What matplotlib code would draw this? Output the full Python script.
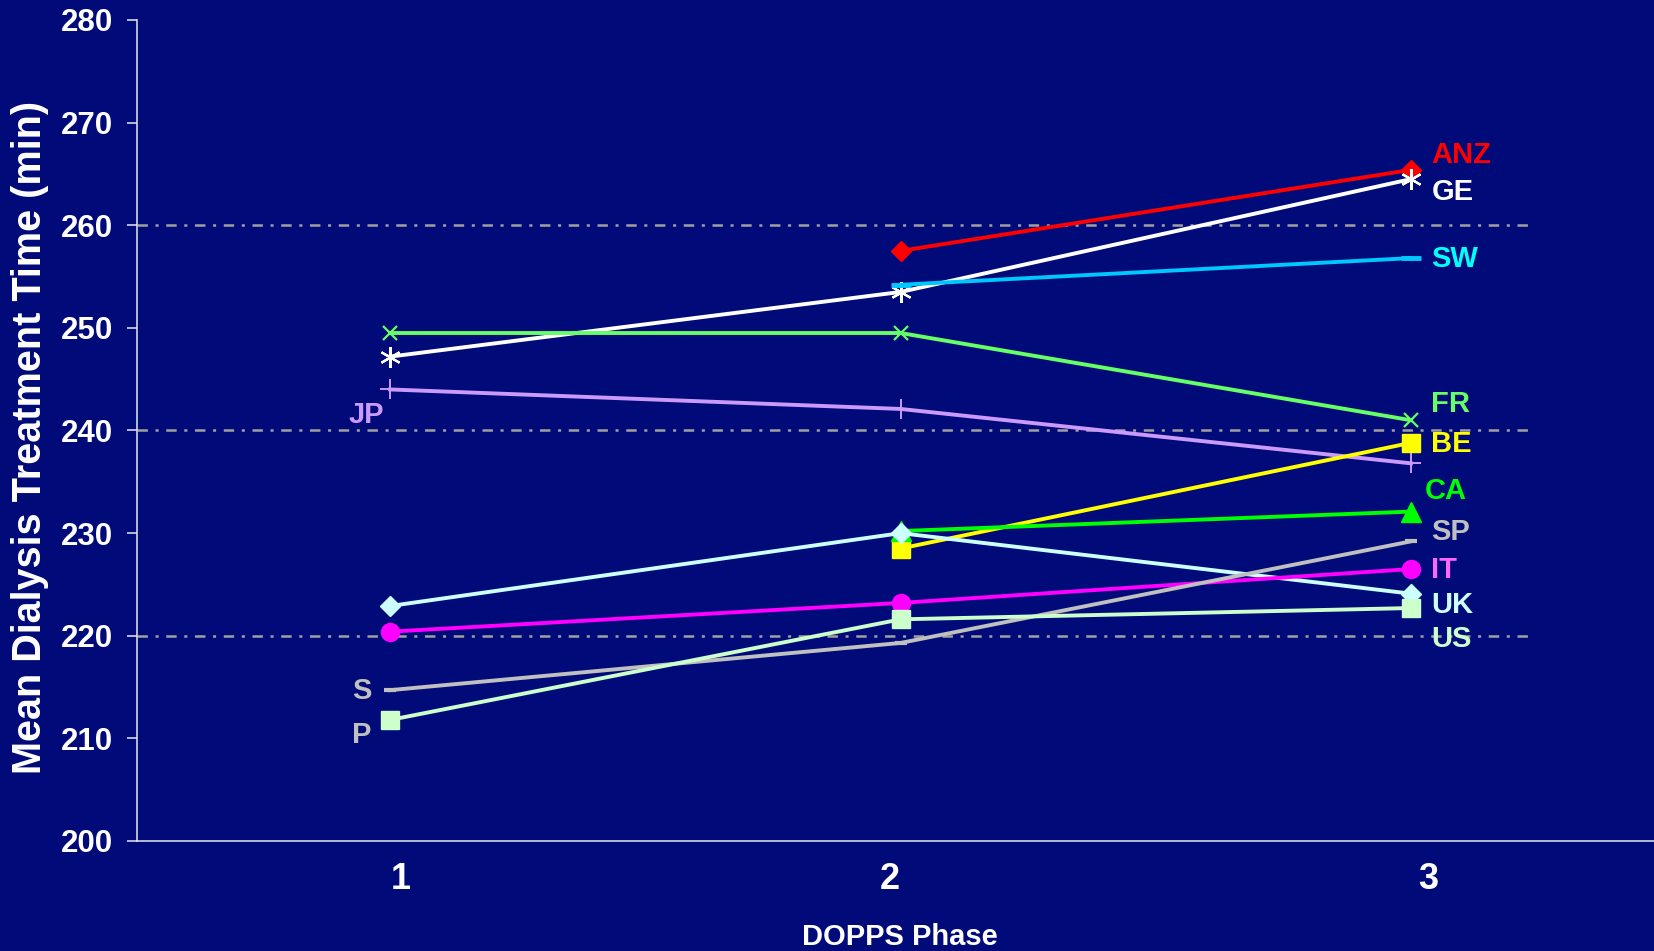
import numpy as np
import matplotlib as mpl
import matplotlib.pyplot as plt

mpl.use('Agg')

# mean dialysis treatment time (min) per DOPPS phase
phases = [1, 2, 3]
anz = [np.nan, 257.5, 265.4]
ge = [247.2, 253.5, 264.5]
sw = [np.nan, 254.2, 256.8]
fr = [249.5, 249.5, 241.0]
jp = [244.0, 242.1, 236.8]
be = [np.nan, 228.5, 238.8]
ca = [np.nan, 230.2, 232.1]
uk = [222.9, 230.0, 224.1]
it = [220.4, 223.2, 226.5]
sp = [214.7, 219.3, 229.2]
us = [211.8, 221.6, 222.7]

y_ticks = [200, 210, 220, 230, 240, 250, 260, 270, 280]
ref_lines = [220, 240, 260]

BG = '#000A78'
plt.rcParams['font.family'] = ['Liberation Sans', 'DejaVu Sans']
plt.rcParams['font.weight'] = 'bold'
plt.rcParams['lines.scale_dashes'] = False

fig = plt.figure(figsize=(16.54, 9.51), dpi=100, facecolor=BG)
ax = fig.add_axes([137 / 1654, 110 / 951, 1517 / 1654, 821 / 951], facecolor=BG)

ax.set_xlim(0.504, 3.476)
ax.set_ylim(200, 280)

# dash-dot reference lines
for y in ref_lines:
    ax.hlines(y, 0.504, 3.243, colors='#A0A0A0', lw=1.8,
              linestyles=[(0, (7.5, 5.5, 2.2, 5.5))], zorder=1)

# (values, line colour, marker, marker size, marker edge width)
series = [
    (anz, '#FF0000', 'D', 10, 1),
    (ge, '#FFFFFF', (6, 2, 0), 15, 1.6),
    (sw, '#00C8FF', '_', 14, 3.5),
    (fr, '#66FF66', 'x', 10, 1.6),
    (jp, '#CC99FF', '+', 15, 1.4),
    (be, '#FFFF00', 's', 13, 1),
    (ca, '#00FF00', '^', 14, 1),
    (uk, '#CCFFFF', 'D', 10, 1),
    (it, '#FF00FF', 'o', 13, 1),
    (sp, '#C0C0C0', '_', 9, 3),
    (us, '#CCFFCC', 's', 13, 1),
]
for vals, col, mk, ms, mew in series:
    ax.plot(phases, vals, color=col, lw=2.8, marker=mk, ms=ms,
            mfc=col, mec=col, mew=mew, zorder=3)

# country labels
labels = [
    ('ANZ', '#FF0000', 3.04, 266.8, 'left'),
    ('GE', '#FFFFFF', 3.04, 263.2, 'left'),
    ('SW', '#00FFFF', 3.04, 256.7, 'left'),
    ('FR', '#66FF66', 3.04, 242.6, 'left'),
    ('BE', '#FFFF00', 3.04, 238.7, 'left'),
    ('CA', '#00FF00', 3.026, 234.1, 'left'),
    ('SP', '#C0C0C0', 3.04, 230.1, 'left'),
    ('IT', '#FF66FF', 3.04, 226.4, 'left'),
    ('UK', '#CCFFFF', 3.04, 223.0, 'left'),
    ('US', '#CCFFCC', 3.04, 219.7, 'left'),
    ('JP', '#CC99FF', 0.988, 241.5, 'right'),
    ('S', '#C0C0C0', 0.963, 214.6, 'right'),
    ('P', '#C0C0C0', 0.963, 210.3, 'right'),
]
for txt, col, x, y, ha in labels:
    ax.text(x, y, txt, color=col, fontsize=21, fontweight='bold',
            ha=ha, va='center', zorder=4)

for side in ['top', 'right']:
    ax.spines[side].set_visible(False)
for side in ['left', 'bottom']:
    ax.spines[side].set_color('#E8E8E8')
    ax.spines[side].set_linewidth(1.1)

ax.set_yticks(y_ticks)
ax.tick_params(axis='y', colors='#E8E8E8', length=7, width=1.1,
               pad=10, labelsize=22.5, labelcolor='white')
ax.set_xticks([1.02, 1.978, 3.033])
ax.set_xticklabels(['1', '2', '3'])
ax.tick_params(axis='x', length=0, pad=15, labelsize=26, labelcolor='white')

fig.text(30 / 1654, 1 - 437 / 951, 'Mean Dialysis Treatment Time (min)',
         rotation=90, ha='center', va='center', color='white',
         fontsize=28.5, fontweight='bold')
fig.text(900 / 1654, 1 - 937 / 951, 'DOPPS Phase', ha='center',
         va='center', color='white', fontsize=21, fontweight='bold')

fig.savefig('out.png', dpi=100, facecolor=BG)
